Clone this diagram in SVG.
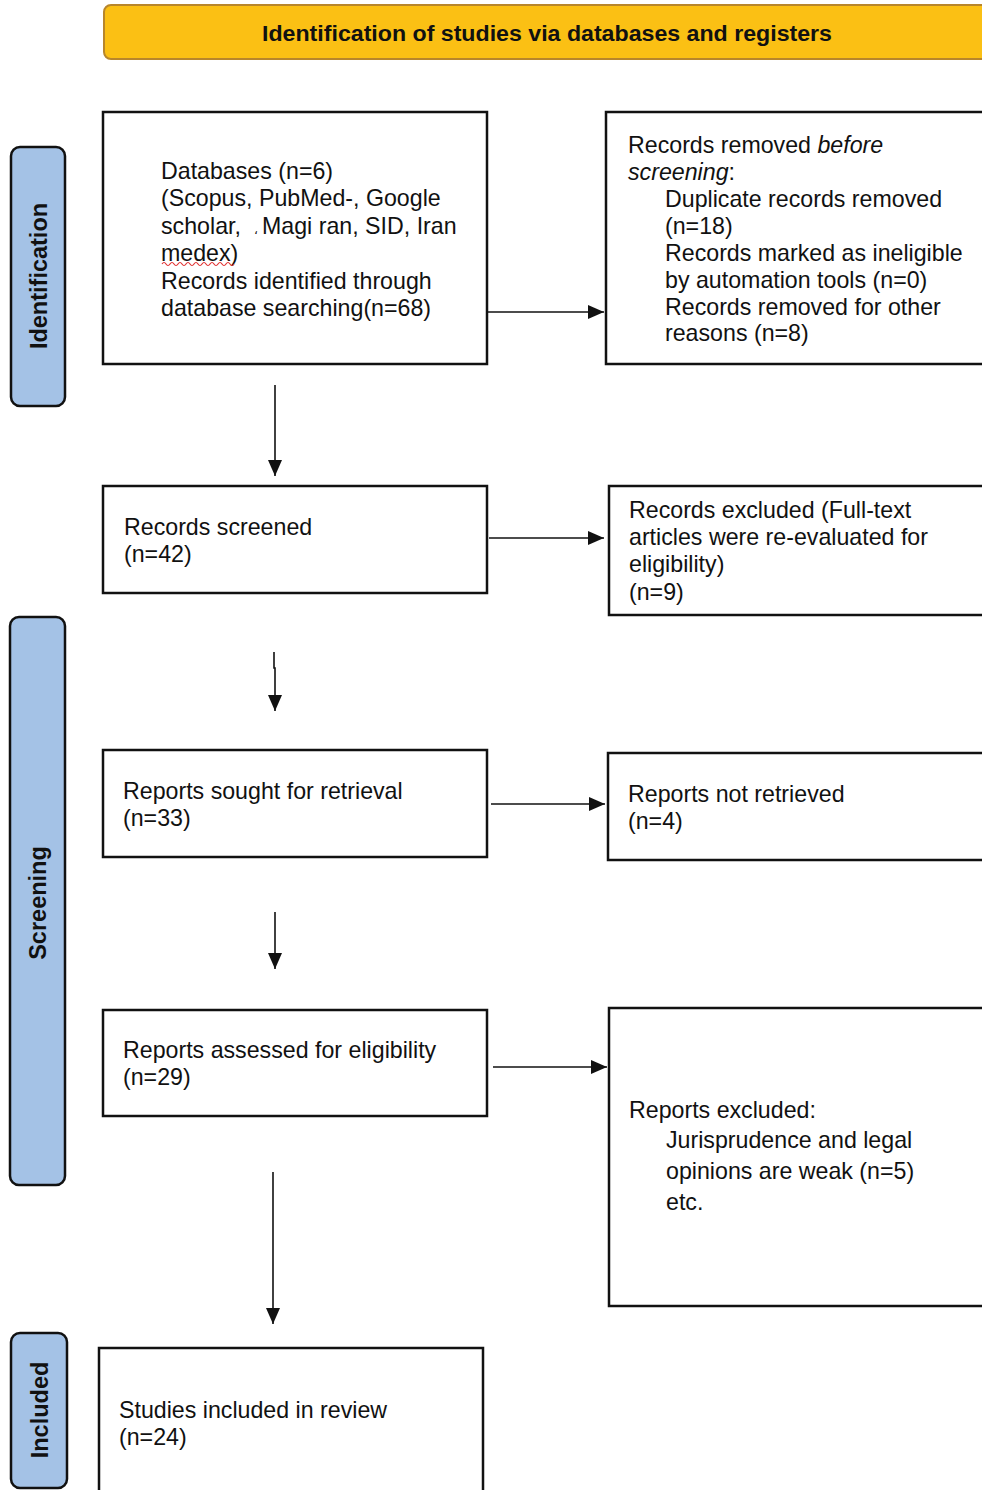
<svg xmlns="http://www.w3.org/2000/svg" width="982" height="1490" viewBox="0 0 982 1490">
<style>
.box{fill:#fff;stroke:#111;stroke-width:2.5}
.side{fill:#a4c2e6;stroke:#111;stroke-width:2.5}
.t{font-family:"Liberation Sans",Arial,sans-serif;font-size:23.2px;fill:#111}
.st{font-family:"Liberation Sans",Arial,sans-serif;font-size:23.5px;font-weight:bold;fill:#111}
.ht{font-family:"Liberation Sans",Arial,sans-serif;font-size:22px;font-weight:bold;fill:#111}
.c{stroke:#111;stroke-width:1.6;fill:none}
</style>
<defs>
<marker id="a" viewBox="0 0 16 14" refX="16" refY="7" markerWidth="16" markerHeight="14" markerUnits="userSpaceOnUse" orient="auto">
<path d="M0,0 L16,7 L0,14 z" fill="#111"/>
</marker>
</defs>
<rect width="982" height="1490" fill="#fff"/>

<g id="header">
<rect x="104" y="5" width="890" height="54" rx="7" fill="#fbc014" stroke="#b8862b" stroke-width="2"/>
<text class="ht" x="547" y="41" text-anchor="middle" textLength="570" lengthAdjust="spacingAndGlyphs">Identification of studies via databases and registers</text>
</g>

<g id="phase-identification">
<rect class="side" x="11" y="147" width="54" height="259" rx="9"/>
<text class="st" transform="translate(47,276) rotate(-90)" text-anchor="middle">Identification</text>
</g>
<g id="phase-screening">
<rect class="side" x="10" y="617" width="55" height="568" rx="9"/>
<text class="st" transform="translate(46,903) rotate(-90)" text-anchor="middle">Screening</text>
</g>
<g id="phase-included">
<rect class="side" x="11" y="1333" width="56" height="155" rx="9"/>
<text class="st" transform="translate(48,1410) rotate(-90)" text-anchor="middle">Included</text>
</g>

<g id="n-databases">
<rect class="box" x="103" y="112" width="384" height="252"/>
<text class="t" x="161" y="179">Databases (n=6)</text>
<text class="t" x="161" y="206">(Scopus, PubMed-, Google</text>
<text class="t" x="161" y="234">scholar,<tspan x="254" font-size="12">،</tspan><tspan x="262">Magi ran, SID, Iran</tspan></text>
<text class="t" x="161" y="261">medex)</text>
<path d="M162,264 q2,-3 4,0 t4,0 t4,0 t4,0 t4,0 t4,0 t4,0 t4,0 t4,0 t4,0 t4,0 t4,0 t4,0 t4,0 t4,0 t4,0 t4,0 t4,0" fill="none" stroke="#e03030" stroke-width="1.2"/>
<text class="t" x="161" y="289">Records identified through</text>
<text class="t" x="161" y="316">database searching(n=68)</text>
</g>

<g id="n-removed">
<rect class="box" x="606" y="112" width="390" height="252"/>
<text class="t" x="628" y="153">Records removed <tspan font-style="italic">before</tspan></text>
<text class="t" x="628" y="180"><tspan font-style="italic">screening</tspan>:</text>
<text class="t" x="665" y="207">Duplicate records removed</text>
<text class="t" x="665" y="234">(n=18)</text>
<text class="t" x="665" y="261">Records marked as ineligible</text>
<text class="t" x="665" y="288">by automation tools (n=0)</text>
<text class="t" x="665" y="315">Records removed for other</text>
<text class="t" x="665" y="341">reasons (n=8)</text>
</g>

<g id="n-screened">
<rect class="box" x="103" y="486" width="384" height="107"/>
<text class="t" x="124" y="535">Records screened</text>
<text class="t" x="124" y="562">(n=42)</text>
</g>

<g id="n-excluded">
<rect class="box" x="609" y="486" width="387" height="129"/>
<text class="t" x="629" y="518">Records excluded (Full-text</text>
<text class="t" x="629" y="545">articles were re-evaluated for</text>
<text class="t" x="629" y="572">eligibility)</text>
<text class="t" x="629" y="600">(n=9)</text>
</g>

<g id="n-sought">
<rect class="box" x="103" y="750" width="384" height="107"/>
<text class="t" x="123" y="799">Reports sought for retrieval</text>
<text class="t" x="123" y="826">(n=33)</text>
</g>

<g id="n-notretrieved">
<rect class="box" x="608" y="753" width="388" height="107"/>
<text class="t" x="628" y="802">Reports not retrieved</text>
<text class="t" x="628" y="829">(n=4)</text>
</g>

<g id="n-assessed">
<rect class="box" x="103" y="1010" width="384" height="106"/>
<text class="t" x="123" y="1058">Reports assessed for eligibility</text>
<text class="t" x="123" y="1085">(n=29)</text>
</g>

<g id="n-reportsexcluded">
<rect class="box" x="609" y="1008" width="387" height="298"/>
<text class="t" x="629" y="1118">Reports excluded:</text>
<text class="t" x="666" y="1148">Jurisprudence and legal</text>
<text class="t" x="666" y="1179">opinions are weak (n=5)</text>
<text class="t" x="666" y="1210">etc.</text>
</g>

<g id="n-included">
<rect class="box" x="99" y="1348" width="384" height="150"/>
<text class="t" x="119" y="1418">Studies included in review</text>
<text class="t" x="119" y="1445">(n=24)</text>
</g>

<g id="connectors">
<line class="c" x1="487" y1="312" x2="604" y2="312" marker-end="url(#a)"/>
<line class="c" x1="275" y1="385" x2="275" y2="476" marker-end="url(#a)"/>
<line class="c" x1="489" y1="538" x2="604" y2="538" marker-end="url(#a)"/>
<path class="c" d="M274,652 L274,668 L275,668 L275,711" marker-end="url(#a)"/>
<line class="c" x1="491" y1="804" x2="605" y2="804" marker-end="url(#a)"/>
<line class="c" x1="275" y1="912" x2="275" y2="969" marker-end="url(#a)"/>
<line class="c" x1="493" y1="1067" x2="607" y2="1067" marker-end="url(#a)"/>
<line class="c" x1="273" y1="1172" x2="273" y2="1324" marker-end="url(#a)"/>
</g>
</svg>
